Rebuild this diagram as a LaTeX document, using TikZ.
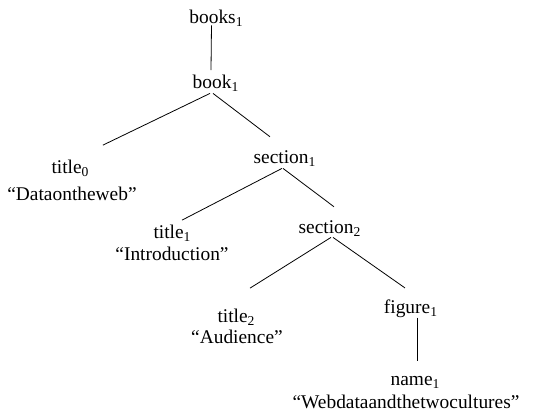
\documentclass[tikz,border=0pt]{standalone}
\usepackage{fontspec}
\setmainfont{Liberation Serif}
\usepackage{tikz}

\begin{document}
\begin{tikzpicture}[x=0.5pt,y=-0.5pt]
\tikzset{lbl/.style={anchor=base, inner sep=1pt, font=\fontsize{9.7}{11.6}\selectfont}}
\useasboundingbox (0,0) rectangle (538,414);

\node[lbl] (books) at (216.5,23) {books\textsubscript{1}};
\node[lbl] (book) at (216,88) {book\textsubscript{1}};

\node[lbl] (title0) at (70.5,173) {title\textsubscript{0}};
\node[lbl] (v0) at (72,200) {“Dataontheweb”};

\node[lbl] (section1) at (285,163) {section\textsubscript{1}};

\node[lbl] (title1) at (172.5,238) {title\textsubscript{1}};
\node[lbl] (v1) at (172,260) {“Introduction”};

\node[lbl] (section2) at (330,233) {section\textsubscript{2}};

\node[lbl] (title2) at (236.5,322) {title\textsubscript{2}};
\node[lbl] (v2) at (237,343) {“Audience”};

\node[lbl] (figure1) at (411,313) {figure\textsubscript{1}};

\node[lbl] (name1) at (415.5,385) {name\textsubscript{1}};
\node[lbl] (v3) at (406,408) {“Webdataandthetwocultures”};

\draw ([shift={(-5,-3)}]books.south)--([shift={(-5,-2)}]book.north);
\draw ([shift={(-6,0)}]book.south)--([shift={(11,-12)}]title0.north east);
\draw ([shift={(-3,0)}]book.south)--([shift={(-15,-11)}]section1.north);
\draw ([shift={(-3,0)}]section1.south)--([shift={(9.5,-2)}]title1.north);
\draw ([shift={(-2,0)}]section1.south)--([shift={(4,-11)}]section2.north);
\draw ([shift={(1,-1)}]section2.south)--([shift={(13.5,-18)}]title2.north);
\draw ([shift={(3,-1)}]section2.south)--([shift={(-6,-9)}]figure1.north);
\draw ([shift={(6,-2)}]figure1.south)--([shift={(1.5,-12)}]name1.north);
\end{tikzpicture}
\end{document}
